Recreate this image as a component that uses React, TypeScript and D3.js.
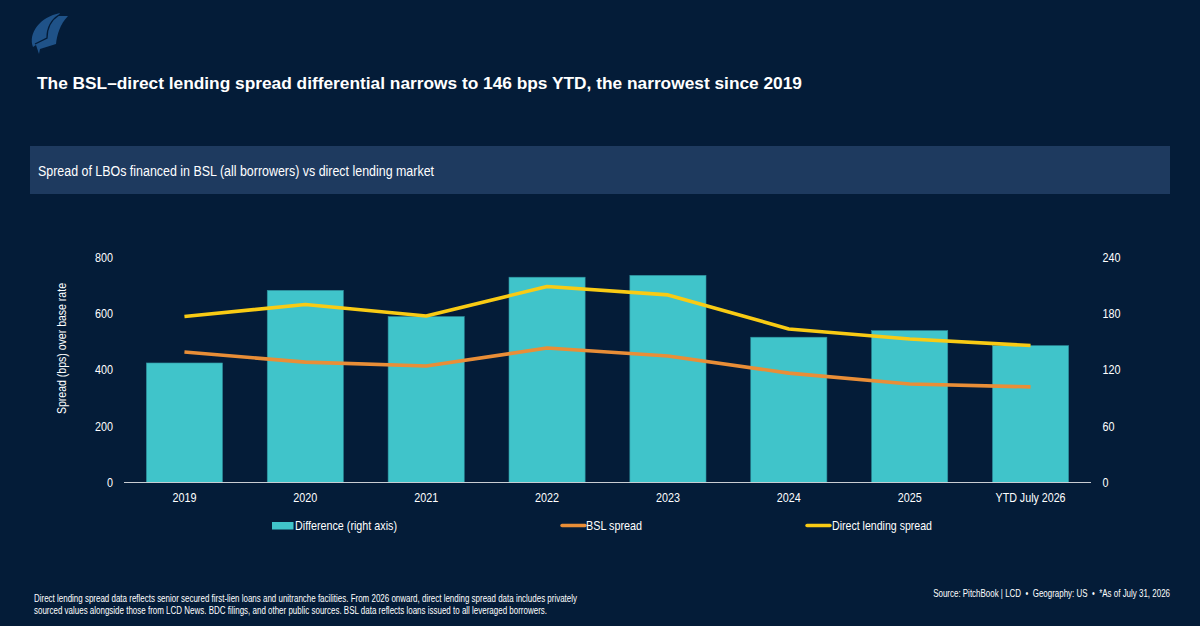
import React from "react";
import * as d3 from "d3";

const categories = ["2019", "2020", "2021", "2022", "2023", "2024", "2025", "YTD July 2026"];
const difference = [127.5, 205, 177, 219, 221, 155, 162, 146];
const bslSpread = [464, 428, 414, 478, 450, 389, 350, 340];
const directSpread = [590, 633, 592, 697, 667, 546, 510, 487];
const leftTicks = [0, 200, 400, 600, 800];
const rightTicks = [0, 60, 120, 180, 240];
const footnoteLines = [
  "Direct lending spread data reflects senior secured first-lien loans and unitranche facilities. From 2026 onward, direct lending spread data includes privately",
  "sourced values alongside those from LCD News. BDC filings, and other public sources. BSL data reflects loans issued to all leveraged borrowers.",
];
const sourceLine = "Source: PitchBook | LCD\u00A0\u00A0•\u00A0\u00A0Geography: US\u00A0\u00A0•\u00A0\u00A0*As of July 31, 2026";

const BG = "#041C38";
const TEAL = "#40C4CA";
const ORANGE = "#E98E37";
const YELLOW = "#F9CB14";
const FONT = "'Liberation Sans', Arial, sans-serif";

const x = d3.scaleBand<string>().domain(categories).range([124, 1091]).paddingInner(0.37).paddingOuter(0.185);
const yLeft = d3.scaleLinear().domain([0, 800]).range([482.5, 257.5]);
const yRight = d3.scaleLinear().domain([0, 240]).range([482.5, 257.5]);
const cx = (c: string) => (x(c) as number) + x.bandwidth() / 2;
const lineOf = (vals: number[]) =>
  d3.line<number>().x((_, i) => cx(categories[i])).y((v) => yLeft(v))(vals) as string;

function T(p: any) {
  const { x, y, size = 12, len, anchor = "start", weight, children, transform } = p;
  return (
    <text x={x} y={y} fontSize={size} fill="#fff" fontFamily={FONT} textAnchor={anchor} fontWeight={weight}
      textLength={len} lengthAdjust={len ? "spacingAndGlyphs" : undefined} transform={transform}>
      {children}
    </text>
  );
}
const tickLen = (t: number) => String(t).length * 6;

export default function App() {
  return (
    <svg width={1200} height={626} style={{ position: "fixed", left: 0, top: 0, display: "block" }}>
      <rect width={1200} height={626} fill={BG} />
      {/* logo */}
      <path d="M33 47 C28 33 40 17 60 13 L58 16 L68 16 C60 24 57 35 56 44 L40 49 L39 54 L36 45 Z" fill="#1F5288" />
      <path d="M59 15 C51 20 47 28 47 38 L35 44" fill="none" stroke={BG} strokeWidth={1.3} />
      <T x={37} y={89} size={16.5} weight={700} len={765}>The BSL–direct lending spread differential narrows to 146 bps YTD, the narrowest since 2019</T>

      <rect x={30} y={146} width={1140} height={48} fill="#1E3A5F" />
      <T x={38} y={176} size={14} len={396}>Spread of LBOs financed in BSL (all borrowers) vs direct lending market</T>

      {categories.map((c, i) => (
        <rect key={c} x={x(c)} y={yRight(difference[i])} width={x.bandwidth()} height={482.5 - yRight(difference[i])}
          fill={TEAL} stroke="#2D8E9B" strokeWidth={0.6} />
      ))}
      <line x1={124} x2={1091} y1={482.5} y2={482.5} stroke="#C9CDD3" strokeWidth={1} />
      <path d={lineOf(bslSpread)} fill="none" stroke={ORANGE} strokeWidth={3.6} strokeLinejoin="round" />
      <path d={lineOf(directSpread)} fill="none" stroke={YELLOW} strokeWidth={3.6} strokeLinejoin="round" />

      {leftTicks.map((t) => (
        <T key={t} x={113 - tickLen(t)} y={yLeft(t) + 4.4} size={13.5} len={tickLen(t)}>{t}</T>
      ))}
      {rightTicks.map((t) => (
        <T key={t} x={1102.5} y={yRight(t) + 4.4} size={13.5} len={tickLen(t)}>{t}</T>
      ))}
      {categories.map((c) => (
        <T key={c} x={cx(c) - (c.length > 4 ? 35 : 12)} y={502} size={13.5} len={c.length > 4 ? 70 : 24}>{c}</T>
      ))}
      <T x={0} y={0} size={13.5} anchor="middle" len={131} transform="translate(66 348.5) rotate(-90)">Spread (bps) over base rate</T>

      {/* legend */}
      <rect x={272} y={522} width={21.5} height={7.5} fill={TEAL} />
      <T x={295} y={530} size={13.5} len={102}>Difference (right axis)</T>
      <line x1={562} x2={585} y1={525.5} y2={525.5} stroke={ORANGE} strokeWidth={3.4} strokeLinecap="round" />
      <T x={586} y={530} size={13.5} len={56}>BSL spread</T>
      <line x1={807} x2={830} y1={525.5} y2={525.5} stroke={YELLOW} strokeWidth={3.4} strokeLinecap="round" />
      <T x={832} y={530} size={13.5} len={100}>Direct lending spread</T>

      <T x={34} y={602} size={10} len={543}>{footnoteLines[0]}</T>
      <T x={34} y={614} size={10} len={513}>{footnoteLines[1]}</T>
      <g transform="translate(1170 597) scale(0.797 1)">
        <text x={0} y={0} fontSize={10} fill="#fff" fontFamily={FONT} textAnchor="end">{sourceLine}</text>
      </g>
    </svg>
  );
}
